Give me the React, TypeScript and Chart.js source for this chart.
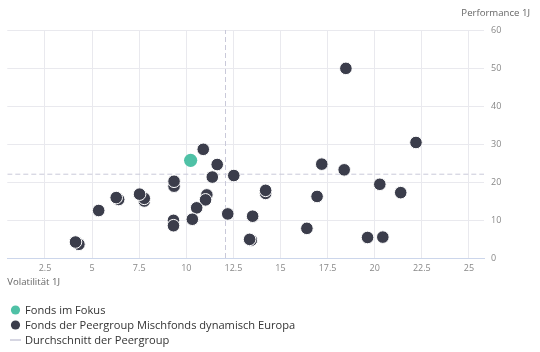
import React, { useEffect, useRef } from "react";
import { Chart, registerables } from "chart.js";

Chart.register(...registerables);

// Fonds im Fokus
const focusX = [10.23];
const focusY = [25.7];

// Fonds der Peergroup (volatility, performance)
const peerX = [18.47, 22.19, 10.9, 11.64, 17.19, 18.38, 12.52, 11.38, 9.35, 9.35, 20.27, 21.38, 14.21, 14.21, 16.94, 6.41, 6.28, 7.77, 7.77, 7.52, 11.09, 11.02, 10.55, 10.32, 5.35, 12.2, 13.52, 9.32, 9.32, 16.4, 19.62, 20.43, 13.45, 13.36, 4.3, 4.12];
const peerY = [49.9, 30.4, 28.6, 24.6, 24.7, 23.2, 21.7, 21.3, 18.9, 20.2, 19.4, 17.2, 17.0, 17.8, 16.2, 15.4, 15.9, 15.0, 15.7, 16.8, 16.6, 15.3, 13.2, 10.2, 12.5, 11.6, 11.0, 9.9, 8.5, 7.8, 5.4, 5.5, 4.7, 4.9, 3.6, 4.2];

// Durchschnitt der Peergroup
const avgX = 12.08;
const avgY = 22.05;

const xMin = 0.5;
const xMax = 25.8;
const yMin = 0;
const yMax = 60;
const xStep = 2.5;
const yStep = 10;

const xTitle = "Volatilität 1J";
const yTitle = "Performance 1J";
const legendLabels = ["Fonds im Fokus", "Fonds der Peergroup Mischfonds dynamisch Europa", "Durchschnitt der Peergroup"];

const FOCUS = "#4fc1a6";
const PEER = "#3b3d4b";
const AVG = "#c9c9d9";
const FONT = "'Open Sans', 'DejaVu Sans', sans-serif";

export default function App() {
  const ref = useRef<HTMLCanvasElement>(null);
  useEffect(() => {
    document.body.style.margin = "0";
    const canvas = ref.current!;
    const extras = {
      id: "extras",
      afterDraw(chart: any) {
        const ctx = chart.ctx;
        const ca = chart.chartArea;
        ctx.save();
        ctx.textBaseline = "middle";
        ctx.fillStyle = "#666";
        ctx.font = `9.6px ${FONT}`;
        ctx.textAlign = "right";
        ctx.fillText(yTitle, 530, 13.5);
        ctx.textAlign = "left";
        ctx.fillText(xTitle, ca.left, 282);
        // legend
        const ly = [310, 325, 340];
        ctx.font = `11.1px ${FONT}`;
        ctx.fillStyle = FOCUS;
        ctx.beginPath();
        ctx.arc(15.5, ly[0], 4.6, 0, Math.PI * 2);
        ctx.fill();
        ctx.fillStyle = PEER;
        ctx.beginPath();
        ctx.arc(15.5, ly[1], 4.6, 0, Math.PI * 2);
        ctx.fill();
        ctx.strokeStyle = AVG;
        ctx.lineWidth = 1.5;
        ctx.beginPath();
        ctx.moveTo(10, ly[2]);
        ctx.lineTo(21, ly[2]);
        ctx.stroke();
        ctx.fillStyle = "#333";
        legendLabels.forEach((t, i) => ctx.fillText(t, 25, ly[i] + 0.5));
        ctx.restore();
      },
    };
    const chart = new Chart(canvas, {
      type: "scatter",
      data: {
        datasets: [
          {
            label: legendLabels[0],
            data: focusX.map((x, i) => ({ x, y: focusY[i] })),
            backgroundColor: FOCUS,
            borderColor: FOCUS,
            borderWidth: 0,
            pointRadius: 6.6,
          },
          {
            label: legendLabels[1],
            data: peerX.map((x, i) => ({ x, y: peerY[i] })),
            backgroundColor: PEER,
            borderColor: "#ffffff",
            borderWidth: 1,
            pointRadius: 6.3,
          },
          {
            label: legendLabels[2],
            type: "line",
            data: [{ x: avgX, y: yMin }, { x: avgX, y: yMax }],
            borderColor: AVG,
            borderWidth: 1,
            borderDash: [5, 3],
            pointRadius: 0,
            showLine: true,
          } as any,
          {
            label: legendLabels[2] + " ",
            type: "line",
            data: [{ x: xMin, y: avgY }, { x: xMax, y: avgY }],
            borderColor: AVG,
            borderWidth: 1,
            borderDash: [5, 3],
            pointRadius: 0,
            showLine: true,
          } as any,
        ],
      },
      options: {
        animation: false,
        responsive: false,
        layout: { padding: { top: 30, left: 5, right: 0, bottom: 0 } },
        plugins: { legend: { display: false }, tooltip: { enabled: false } },
        scales: {
          x: {
            type: "linear",
            min: xMin,
            max: xMax,
            ticks: {
              stepSize: xStep,
              includeBounds: false,
              color: "#888",
              font: { family: FONT, size: 9 },
              padding: 5,
              maxRotation: 0,
            },
            grid: { color: "#e9e9ee", drawTicks: false },
            border: { color: "#ccd6eb", width: 1 },
            afterFit(s: any) {
              s.height = 352 - 258;
            },
          },
          y: {
            type: "linear",
            position: "right",
            min: yMin,
            max: yMax,
            ticks: {
              stepSize: yStep,
              color: "#888",
              font: { family: FONT, size: 9 },
              padding: 7,
            },
            grid: { color: "#e9e9ee", drawTicks: false },
            border: { display: false },
            afterFit(s: any) {
              s.width = 56;
            },
          },
        },
      },
      plugins: [extras],
    } as any);
    return () => chart.destroy();
  }, []);
  return <canvas ref={ref} width={540} height={352} style={{ display: "block" }} />;
}
